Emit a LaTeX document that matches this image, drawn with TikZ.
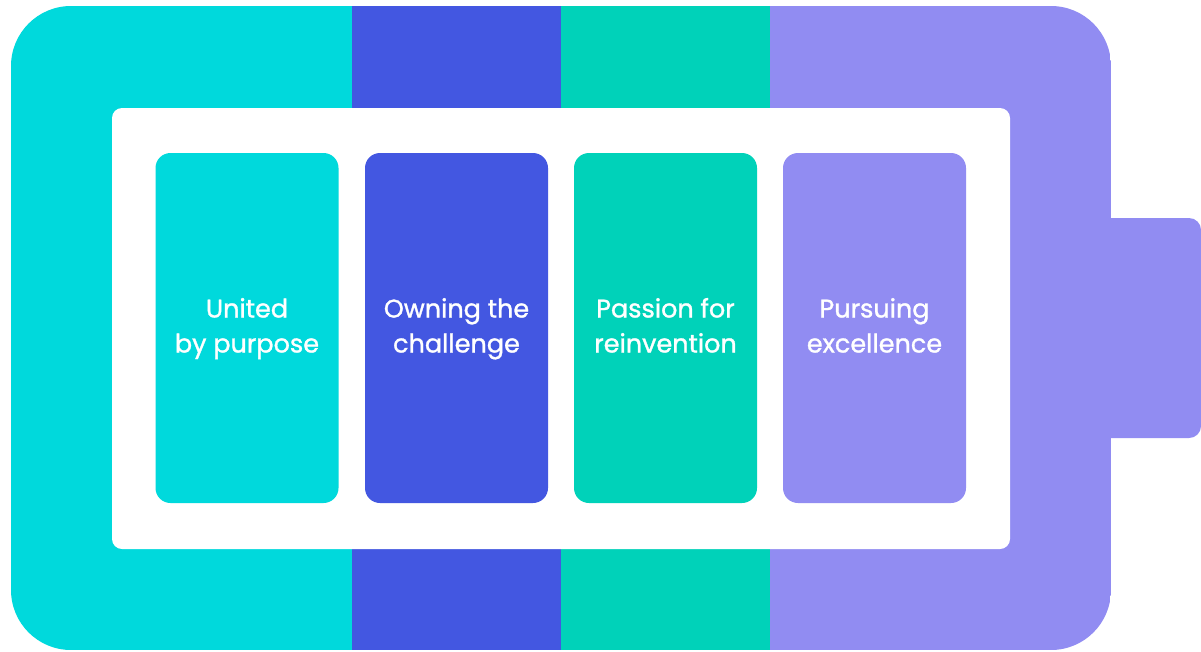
\documentclass[tikz,border=0pt]{standalone}
\usepackage{fontspec}
\setmainfont{Poppins}[BoldFont=Poppins, BoldFeatures={FakeBold=1.2}]
\usepackage{tikz}

\definecolor{unitedcol}{HTML}{00D9DC}
\definecolor{owningcol}{HTML}{4357E1}
\definecolor{passioncol}{HTML}{00D2B9}
\definecolor{pursuingcol}{HTML}{918CF2}

\begin{document}
\begin{tikzpicture}[x=1pt, y=-1pt,
  cell/.style={rounded corners=15pt, minimum width=183pt, minimum height=350pt, inner sep=0pt,
    text=white, align=center, font=\fontsize{25.5}{35}\selectfont\bfseries}]
\useasboundingbox (0,0) rectangle (1201,651);
% battery terminal
\fill[pursuingcol, rounded corners=12pt] (1080,218) rectangle (1201,438);
% battery body in four bands
\begin{scope}
\clip[rounded corners=60pt] (11,6) rectangle (1111,650);
\fill[unitedcol] (11,6) rectangle (352,650);
\fill[owningcol] (352,6) rectangle (561,650);
\fill[passioncol] (561,6) rectangle (770,650);
\fill[pursuingcol] (770,6) rectangle (1111,650);
\end{scope}
\fill[white, rounded corners=10pt] (112,108) rectangle (1010,549);
% the four cells
\node[cell, fill=unitedcol] (united) at (247,328) {\strut United\\\strut by purpose};
\node[cell, fill=owningcol] (owning) at (456.5,328) {\strut Owning the\\\strut challenge};
\node[cell, fill=passioncol] (passion) at (665.5,328) {\strut Passion for\\\strut reinvention};
\node[cell, fill=pursuingcol] (pursuing) at (874.5,328) {\strut Pursuing\\\strut excellence};
\end{tikzpicture}
\end{document}
